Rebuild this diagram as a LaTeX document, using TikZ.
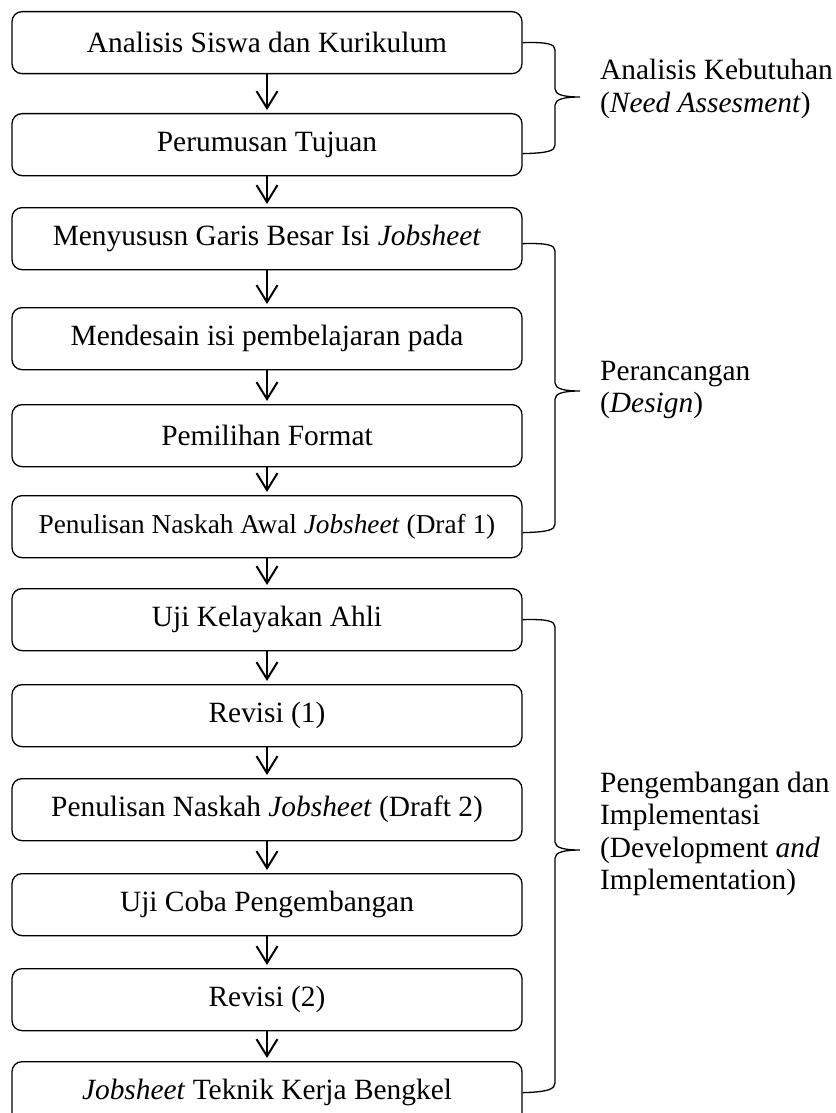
\documentclass[tikz,border=0pt]{standalone}
\usepackage{fontspec}
\setmainfont{Liberation Serif}
\usetikzlibrary{arrows.meta,calc}
\begin{document}
\begin{tikzpicture}[x=1pt,y=-1pt,
  stepbox/.style={draw=black, line width=1.3pt, rounded corners=10pt,
    minimum width=510pt, minimum height=62pt, inner sep=0pt,
    font=\fontsize{29.4}{32}\selectfont, anchor=north},
  smalltext/.style={font=\fontsize{27.3}{30}\selectfont},
  flow/.style={line width=2pt,
    -{Straight Barb[length=17pt,width=21pt,line width=2pt]}, shorten >=3pt},
  brace/.style={line width=1.3pt},
  lbl/.style={anchor=west, align=left, inner sep=0pt,
    font=\fontsize{29.4}{32.5}\selectfont}]
\clip (0,0) rectangle (835,1113);
% boxes
\node[stepbox] (b1)  at (267,11)   {Analisis Siswa dan Kurikulum};
\node[stepbox] (b2)  at (267,113)  {Perumusan Tujuan};
\node[stepbox] (b3)  at (267,207)  {Menyususn Garis Besar Isi \textit{Jobsheet}};
\node[stepbox] (b4)  at (267,307)  {Mendesain isi pembelajaran pada};
\node[stepbox] (b5)  at (267,404)  {Pemilihan Format};
\node[stepbox,smalltext] (b6) at (267,495) {Penulisan Naskah Awal \textit{Jobsheet} (Draf 1)};
\node[stepbox] (b7)  at (267,588)  {Uji Kelayakan Ahli};
\node[stepbox] (b8)  at (267,684)  {Revisi (1)};
\node[stepbox] (b9)  at (267,778)  {Penulisan Naskah \textit{Jobsheet} (Draft 2)};
\node[stepbox] (b10) at (267,873)  {Uji Coba Pengembangan};
\node[stepbox] (b11) at (267,968)  {Revisi (2)};
\node[stepbox] (b12) at (267,1061) {\textit{Jobsheet} Teknik Kerja Bengkel};
% arrows
\foreach \a/\b in {b1/b2,b2/b3,b3/b4,b4/b5,b5/b6,b6/b7,b7/b8,b8/b9,b9/b10,b10/b11,b11/b12}
  \draw[flow] (\a.south) -- (\b.north);
% brackets
\draw[brace] (b1.east) .. controls (548,42) and (555,44) .. (555,50)
  -- (555,89) .. controls (555,95) and (565,97) .. (580,97)
  .. controls (565,97) and (555,99) .. (555,105)
  -- (555,145) .. controls (555,151) and (548,153) .. ([yshift=-9pt]b2.east);
\draw[brace] ([yshift=-5pt]b3.east) .. controls (548,243) and (555,245) .. (555,251)
  -- (555,383) .. controls (555,389) and (565,391) .. (580,391)
  .. controls (565,391) and (555,393) .. (555,399)
  -- (555,524) .. controls (555,530) and (548,532) .. ([yshift=-6pt]b6.east);
\draw[brace] (b7.east) .. controls (548,619) and (555,621) .. (555,627)
  -- (555,842) .. controls (555,848) and (565,850) .. (580,850)
  .. controls (565,850) and (555,852) .. (555,858)
  -- (555,1083) .. controls (555,1089) and (548,1092) .. (b12.east);
% labels
\node[lbl] (l1) at (600,89) {Analisis Kebutuhan\\(\textit{Need Assesment})};
\node[lbl] (l2) at (600,390) {Perancangan\\(\textit{Design})};
\node[lbl] (l3) at (600,834) {Pengembangan dan\\Implementasi\\(Development \textit{and}\\Implementation)};
\end{tikzpicture}
\end{document}
